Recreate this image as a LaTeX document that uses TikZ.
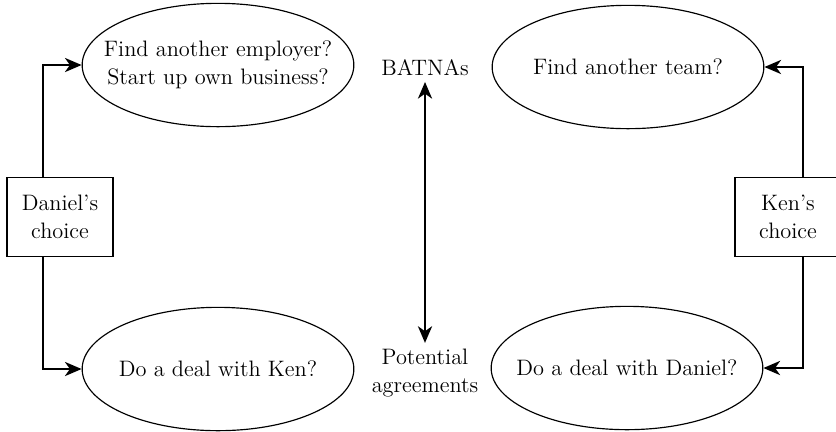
\documentclass[tikz,border=0pt]{standalone}
\usepackage{tikz}
\usetikzlibrary{shapes.geometric, arrows.meta}

\tikzset{
	option/.style = {draw, ellipse, line width=0.7pt, minimum width=163pt, minimum height=74pt, align=center, inner xsep=-30pt, inner ysep=-10pt},
	chooser/.style = {draw, rectangle, line width=0.7pt, minimum width=63.6pt, minimum height=47pt, align=center},
	tip/.tip = {Stealth[length=10pt, width=8.5pt, inset=3pt]},
	link/.style = {line width=1.2pt, -tip},
}

\begin{document}
\begin{tikzpicture}[x=0.6pt, y=-0.6pt, font=\fontsize{13.4}{17}\selectfont]
				\useasboundingbox (0, 0) rectangle (836, 431);
				% Daniel
				\node[option] (employer) at (218, 65) {Find another employer?\\Start up own business?};
				\node[option] (dealken) at (218, 369) {Do a deal with Ken?};
				\node[chooser] (danchoice) at (60, 217) {Daniel's\\choice};
				\coordinate (danline) at (43, 217);
				\draw[link] (danchoice.north -| danline) |- (employer.west);
				\draw[link] (danchoice.south -| danline) |- (dealken.west);
				% Ken
				\node[option] (team) at (628, 67) {Find another team?};
				\node[option] (dealdan) at (627, 368) {Do a deal with Daniel?};
				\node[chooser] (kenchoice) at (788, 217) {Ken's\\choice};
				\coordinate (kenline) at (803, 217);
				\draw[link] (kenchoice.north -| kenline) |- (team.east);
				\draw[link] (kenchoice.south -| kenline) |- (dealdan.east);
				% middle
				\node (batna) at (425, 68) {BATNAs};
				\node[align = center] (potential) at (425, 373) {Potential\\agreements};
				\draw[link, tip-tip] (batna) -- (potential);
			\end{tikzpicture}
\end{document}
